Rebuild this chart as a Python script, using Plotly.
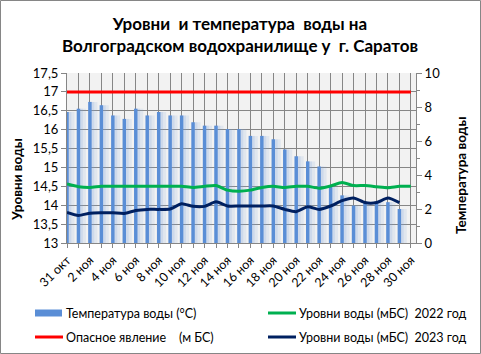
import plotly.graph_objects as go

dates = ["31 окт", "1 ноя", "2 ноя", "3 ноя", "4 ноя", "5 ноя", "6 ноя", "7 ноя", "8 ноя", "9 ноя",
         "10 ноя", "11 ноя", "12 ноя", "13 ноя", "14 ноя", "15 ноя", "16 ноя", "17 ноя", "18 ноя", "19 ноя",
         "20 ноя", "21 ноя", "22 ноя", "23 ноя", "24 ноя", "25 ноя", "26 ноя", "27 ноя", "28 ноя", "29 ноя",
         "30 ноя"]

temp_water = [7.7, 7.9, 8.3, 8.1, 7.5, 7.3, 7.9, 7.5, 7.7, 7.5,
              7.5, 7.1, 6.9, 6.9, 6.7, 6.7, 6.3, 6.3, 6.1, 5.5,
              5.1, 4.8, 4.5, 3.3, 2.8, 2.2, 2.4, 2.4, 2.4, 2.0]

level_2022 = [14.56, 14.49, 14.47, 14.50, 14.50, 14.50, 14.50, 14.50, 14.50, 14.50,
              14.50, 14.47, 14.50, 14.52, 14.40, 14.37, 14.40, 14.47, 14.50, 14.47,
              14.50, 14.50, 14.45, 14.51, 14.60, 14.52, 14.52, 14.49, 14.46, 14.50,
              14.50]

level_2023 = [13.81, 13.73, 13.79, 13.80, 13.80, 13.78, 13.86, 13.89, 13.89, 13.90,
              14.04, 13.97, 13.97, 14.09, 13.98, 13.98, 13.98, 13.98, 13.98, 13.89,
              13.83, 13.96, 13.89, 13.98, 14.12, 14.19, 14.07, 14.07, 14.19, 14.07]

danger_level = [17.0] * 31

left_ticks = [13, 13.5, 14, 14.5, 15, 15.5, 16, 16.5, 17, 17.5]
left_labels = ["13", "13,5", "14", "14,5", "15", "15,5", "16", "16,5", "17", "17,5"]
right_ticks = [0, 2, 4, 6, 8, 10]

title_lines = ["Уровни  и температура  воды на", "Волгоградском водохранилище у  г. Саратов"]
left_title = "Уровни воды"
right_title = "Температура воды"

series_names = ["Температура воды (°С)", "Уровни воды (мБС)  2022 год",
                "Опасное явление    (м БС)", "Уровни воды (мБС)  2023 год"]
series_colors = ["#5a8ed6", "#00b050", "#ff0000", "#002060"]

FONT = "Lato"
PL, PR, PT, PB = 67, 416, 73, 243  # plot area in pixels
PW, PH = PR - PL, PB - PT


def px(xp):
    return (xp - PL) / PW


def py(yp):
    return (PB - yp) / PH


idx = list(range(len(dates)))
tick_text = [d if i % 2 == 0 else "" for i, d in enumerate(dates)]

fig = go.Figure()

# soft glow behind the bars
fig.add_trace(go.Bar(x=idx[:len(temp_water)], y=temp_water, yaxis="y", width=0.8, offset=-0.15,
                     marker=dict(color="rgba(120,160,220,0.14)", line=dict(width=0)),
                     showlegend=False, hoverinfo="skip"))
fig.add_trace(go.Bar(x=idx[:len(temp_water)], y=temp_water, yaxis="y", width=0.5, offset=-0.12,
                     marker=dict(color="rgba(120,160,220,0.18)", line=dict(width=0)),
                     showlegend=False, hoverinfo="skip"))
fig.add_trace(go.Bar(x=idx[:len(temp_water)], y=temp_water, yaxis="y", width=0.3,
                     marker=dict(color=series_colors[0], line=dict(width=0)),
                     name=series_names[0], showlegend=False))

fig.add_trace(go.Scatter(x=idx, y=level_2022, yaxis="y2", mode="lines",
                         line=dict(color=series_colors[1], width=3, shape="spline", smoothing=0.6),
                         name=series_names[1], showlegend=False))
fig.add_trace(go.Scatter(x=idx, y=danger_level, yaxis="y2", mode="lines",
                         line=dict(color=series_colors[2], width=3),
                         name=series_names[2], showlegend=False))
fig.add_trace(go.Scatter(x=idx[:len(level_2023)], y=level_2023, yaxis="y2", mode="lines",
                         line=dict(color=series_colors[3], width=3, shape="spline", smoothing=0.6),
                         name=series_names[3], showlegend=False))

# figure border
fig.add_shape(type="rect", xref="paper", yref="paper",
              x0=px(0.5), x1=px(480.5), y0=py(353.5), y1=py(0.5),
              line=dict(color="#868686", width=1), layer="below")

# legend (two columns)
legend_pos = [(35, 313), (268, 313), (35, 337), (268, 337)]
for i, (name, col, (lx, ly)) in enumerate(zip(series_names, series_colors, legend_pos)):
    if i == 0:
        fig.add_shape(type="rect", xref="paper", yref="paper",
                      x0=px(lx), x1=px(lx + 27), y0=py(ly + 3.5), y1=py(ly - 3.5),
                      fillcolor=col, line=dict(width=0))
    else:
        fig.add_shape(type="line", xref="paper", yref="paper",
                      x0=px(lx), x1=px(lx + 28), y0=py(ly), y1=py(ly),
                      line=dict(color=col, width=3))
    fig.add_annotation(text=name, xref="paper", yref="paper", x=px(lx + 29), y=py(ly),
                       xanchor="left", yanchor="middle", showarrow=False,
                       font=dict(family=FONT, size=12.5, color="#000000"))

fig.add_annotation(text="<b>" + title_lines[0] + "<br>" + title_lines[1] + "</b>",
                   xref="paper", yref="paper", x=px(240), y=py(35),
                   xanchor="center", yanchor="middle", showarrow=False,
                   font=dict(family=FONT, size=17, color="#000000"), align="center")

# axis titles
fig.add_annotation(text="<b>" + left_title + "</b>", xref="paper", yref="paper",
                   x=px(17), y=py(180), textangle=-90, showarrow=False,
                   xanchor="center", yanchor="middle",
                   font=dict(family=FONT, size=13.5, color="#000000"))
fig.add_annotation(text="<b>" + right_title + "</b>", xref="paper", yref="paper",
                   x=px(461), y=py(176), textangle=-90, showarrow=False,
                   xanchor="center", yanchor="middle",
                   font=dict(family=FONT, size=13.5, color="#000000"))

fig.update_layout(
    width=481, height=354,
    margin=dict(l=PL, r=481 - PR, t=PT, b=354 - PB),
    paper_bgcolor="white",
    plot_bgcolor="#f2f2f2",
    barmode="overlay",
    font=dict(family=FONT, size=12, color="#000000"),
    showlegend=False,
    xaxis=dict(range=[0, 30.45], tickmode="array", tickvals=idx, ticktext=tick_text,
               tickangle=-45, showgrid=True, gridcolor="#868686", gridwidth=1,
               ticks="outside", ticklen=4, tickcolor="#868686", automargin=False,
               showline=True, linecolor="#868686", linewidth=1, zeroline=False,
               tickfont=dict(family=FONT, size=12.5)),
    yaxis=dict(range=[0, 10], side="right", tickmode="array", tickvals=right_ticks,
               showgrid=False, zeroline=False, showline=True, linecolor="#868686",
               ticks="outside", ticklen=5, tickcolor="#868686", automargin=False,
               minor=dict(dtick=1, ticks="outside", ticklen=3, tickcolor="#868686"),
               tickfont=dict(family=FONT, size=13)),
    yaxis2=dict(range=[13, 17.5], side="left", overlaying="y", tickmode="array",
                tickvals=left_ticks, ticktext=left_labels, automargin=False,
                showgrid=True, gridcolor="#868686", gridwidth=1, zeroline=False,
                showline=True, linecolor="#868686", ticks="outside", ticklen=5, tickcolor="#868686",
                tickfont=dict(family=FONT, size=13)),
)

fig.write_html("out.html")
